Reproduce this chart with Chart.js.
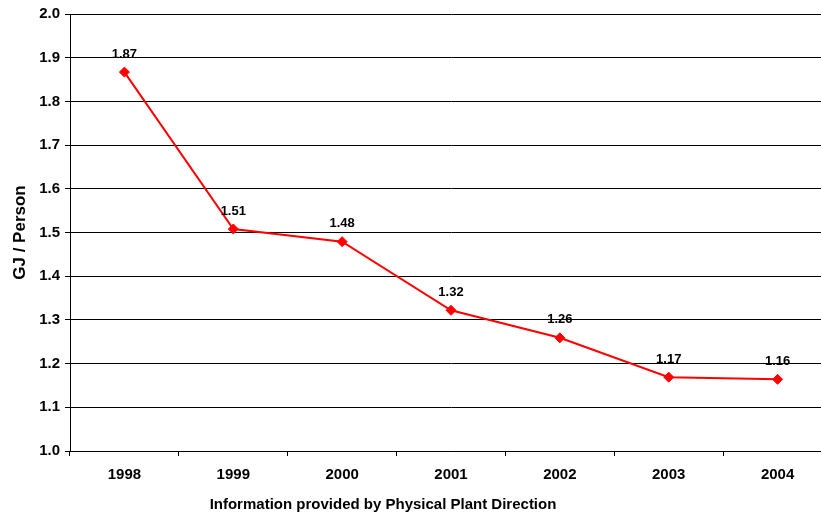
<!DOCTYPE html>
<html>
<head>
<meta charset="utf-8">
<script src="https://cdn.jsdelivr.net/npm/chart.js@4/dist/chart.umd.min.js"></script>
<style>
  html, body { margin:0; padding:0; overflow:hidden; background:#fff; }
  #wrap { position:relative; width:840px; height:517px; }
</style>
</head>
<body>
<div id="wrap"><canvas id="chart"></canvas></div>
<script>
const years = ['1998','1999','2000','2001','2002','2003','2004'];
const gjPerPerson = [1.867, 1.508, 1.479, 1.322, 1.259, 1.169, 1.164];
const valueLabels = ['1.87','1.51','1.48','1.32','1.26','1.17','1.16'];
const yTitle = 'GJ / Person';
const footnote = 'Information provided by Physical Plant Direction';

const fontFamily = '"Liberation Sans", Arial, sans-serif';

// etiquetas de valor sobre cada punto
const pointLabels = {
    id: 'pointLabels',
    afterDatasetsDraw(chart) {
        const ctx = chart.ctx;
        const meta = chart.getDatasetMeta(0);
        ctx.save();
        ctx.font = 'bold 13px ' + fontFamily;
        ctx.fillStyle = '#000';
        ctx.textAlign = 'center';
        ctx.textBaseline = 'middle';
        meta.data.forEach((pt, i) => {
            ctx.fillText(valueLabels[i], pt.x, pt.y - 18);
        });
        ctx.restore();
    }
};

// nota al pie bajo el eje x
const footnotePlugin = {
    id: 'footnote',
    afterDraw(chart) {
        const ctx = chart.ctx;
        ctx.save();
        ctx.font = 'bold 15px ' + fontFamily;
        ctx.fillStyle = '#000';
        ctx.textAlign = 'center';
        ctx.textBaseline = 'middle';
        ctx.fillText(footnote, 383, 505);
        ctx.restore();
    }
};

new Chart(document.getElementById('chart'), {
    type: 'line',
    data: {
        labels: years,
        datasets: [{
            data: gjPerPerson,
            borderColor: '#ff0000',
            backgroundColor: '#ff0000',
            borderWidth: 2,
            tension: 0,
            pointStyle: 'rectRot',
            pointRadius: 5,
            pointHoverRadius: 5,
            pointBorderWidth: 1
        }]
    },
    options: {
        responsive: true,
        maintainAspectRatio: false,
        animation: false,
        layout: { padding: { top: 13, right: 8, left: 0, bottom: 0 } },
        plugins: { legend: { display: false }, tooltip: { enabled: false } },
        scales: {
            x: {
                offset: true,
                grid: { offset: true, drawOnChartArea: false, drawTicks: true, tickLength: 5, color: '#000' },
                border: { color: '#000', width: 1 },
                ticks: { color: '#000', font: { family: fontFamily, size: 15, weight: 'bold' }, padding: 10 },
                afterFit(scale) { scale.height = 66; }
            },
            y: {
                min: 1.0,
                max: 2.0,
                ticks: {
                    stepSize: 0.1,
                    color: '#000',
                    font: { family: fontFamily, size: 15, weight: 'bold' },
                    padding: 5,
                    callback: v => v.toFixed(1)
                },
                grid: { color: '#000', lineWidth: 1, tickLength: 5 },
                border: { color: '#000', width: 1 },
                title: { display: true, text: yTitle, color: '#000', font: { family: fontFamily, size: 17, weight: 'bold' }, padding: { top: 10, bottom: 0 } },
                afterFit(scale) { scale.width = 70; }
            }
        }
    },
    plugins: [pointLabels, footnotePlugin]
});
</script>
</body>
</html>
